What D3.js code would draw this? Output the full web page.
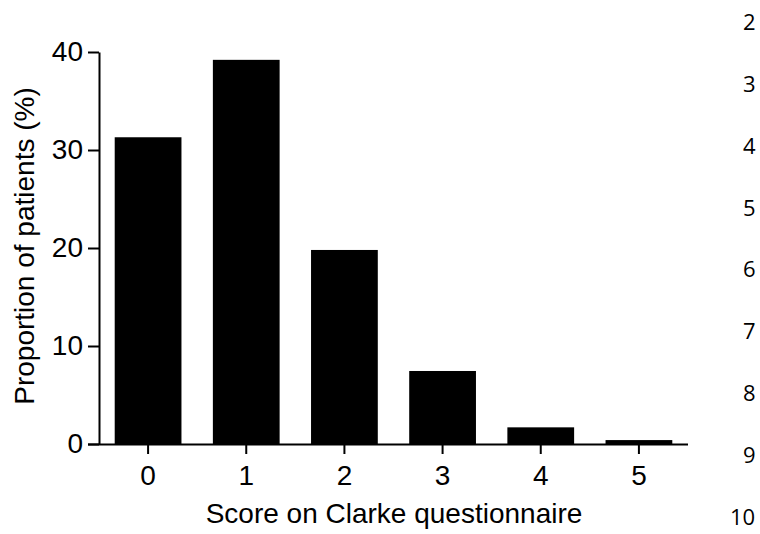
<!DOCTYPE html>
<html>
<head>
<meta charset="utf-8">
<script src="https://cdn.jsdelivr.net/npm/d3@7"></script>
<style>
  body { margin: 0; background: #fff; }
  svg { display: block; }
</style>
</head>
<body>
<div id="graph"></div>
<script>
const scores = ["0", "1", "2", "3", "4", "5"];
const proportions = [31.3, 39.2, 19.8, 7.45, 1.7, 0.4];
const yTicks = [0, 10, 20, 30, 40];
const lineNumbers = [2, 3, 4, 5, 6, 7, 8, 9, 10];

const width = 760, height = 534;
const font = "Liberation Sans, Arial, sans-serif";

let svg = d3.select("#graph")
    .append("svg")
    .attr("width", width)
    .attr("height", height);

let x = d3.scaleBand()
    .domain(scores)
    .range([99, 688])
    .paddingInner(0.32)
    .paddingOuter(0.16);

let y = d3.scaleLinear()
    .domain([0, 40])
    .range([444, 52]);

// bars
svg.append("g").selectAll("rect")
    .data(proportions)
    .enter()
    .append("rect")
    .attr("x", (d, i) => x(scores[i]))
    .attr("y", d => y(d))
    .attr("width", x.bandwidth())
    .attr("height", d => y(0) - y(d))
    .attr("fill", "#000");

// y axis
let yAxis = svg.append("g")
    .attr("transform", `translate(99,0)`)
    .call(d3.axisLeft(y).tickValues(yTicks).tickSize(11).tickPadding(5).tickSizeOuter(0));
yAxis.select(".domain").attr("stroke-width", 2);
yAxis.selectAll(".tick line").attr("stroke-width", 2);
yAxis.selectAll("text")
    .style("font-family", font)
    .style("font-size", "28px")
    .attr("fill", "#000");

// x axis
let xAxis = svg.append("g")
    .attr("transform", `translate(0,${y(0)})`)
    .call(d3.axisBottom(x).tickSize(10).tickPadding(11).tickSizeOuter(0));
xAxis.select(".domain").attr("stroke-width", 2).attr("d", "M88,0.5H688");
xAxis.selectAll(".tick line").attr("stroke-width", 2);
xAxis.selectAll("text")
    .style("font-family", font)
    .style("font-size", "28px")
    .attr("fill", "#000");

// axis titles
svg.append("text")
    .attr("x", 394)
    .attr("y", 523)
    .style("text-anchor", "middle")
    .style("font-family", font)
    .style("font-size", "28px")
    .text("Score on Clarke questionnaire");

svg.append("text")
    .attr("transform", `translate(34, 246) rotate(-90)`)
    .style("text-anchor", "middle")
    .style("font-family", font)
    .style("font-size", "28px")
    .text("Proportion of patients (%)");

// page line numbers down the right edge
let ln = d3.scaleLinear().domain([2, 10]).range([22, 517]);
svg.append("g").selectAll("text")
    .data(lineNumbers)
    .enter()
    .append("text")
    .attr("x", d => d < 10 ? 743 : 730)
    .attr("y", d => ln(d))
    .attr("dy", "0.36em")
    .style("font-family", "Open Sans, sans-serif")
    .style("font-size", "22px")
    .text(d => d);
</script>
</body>
</html>
